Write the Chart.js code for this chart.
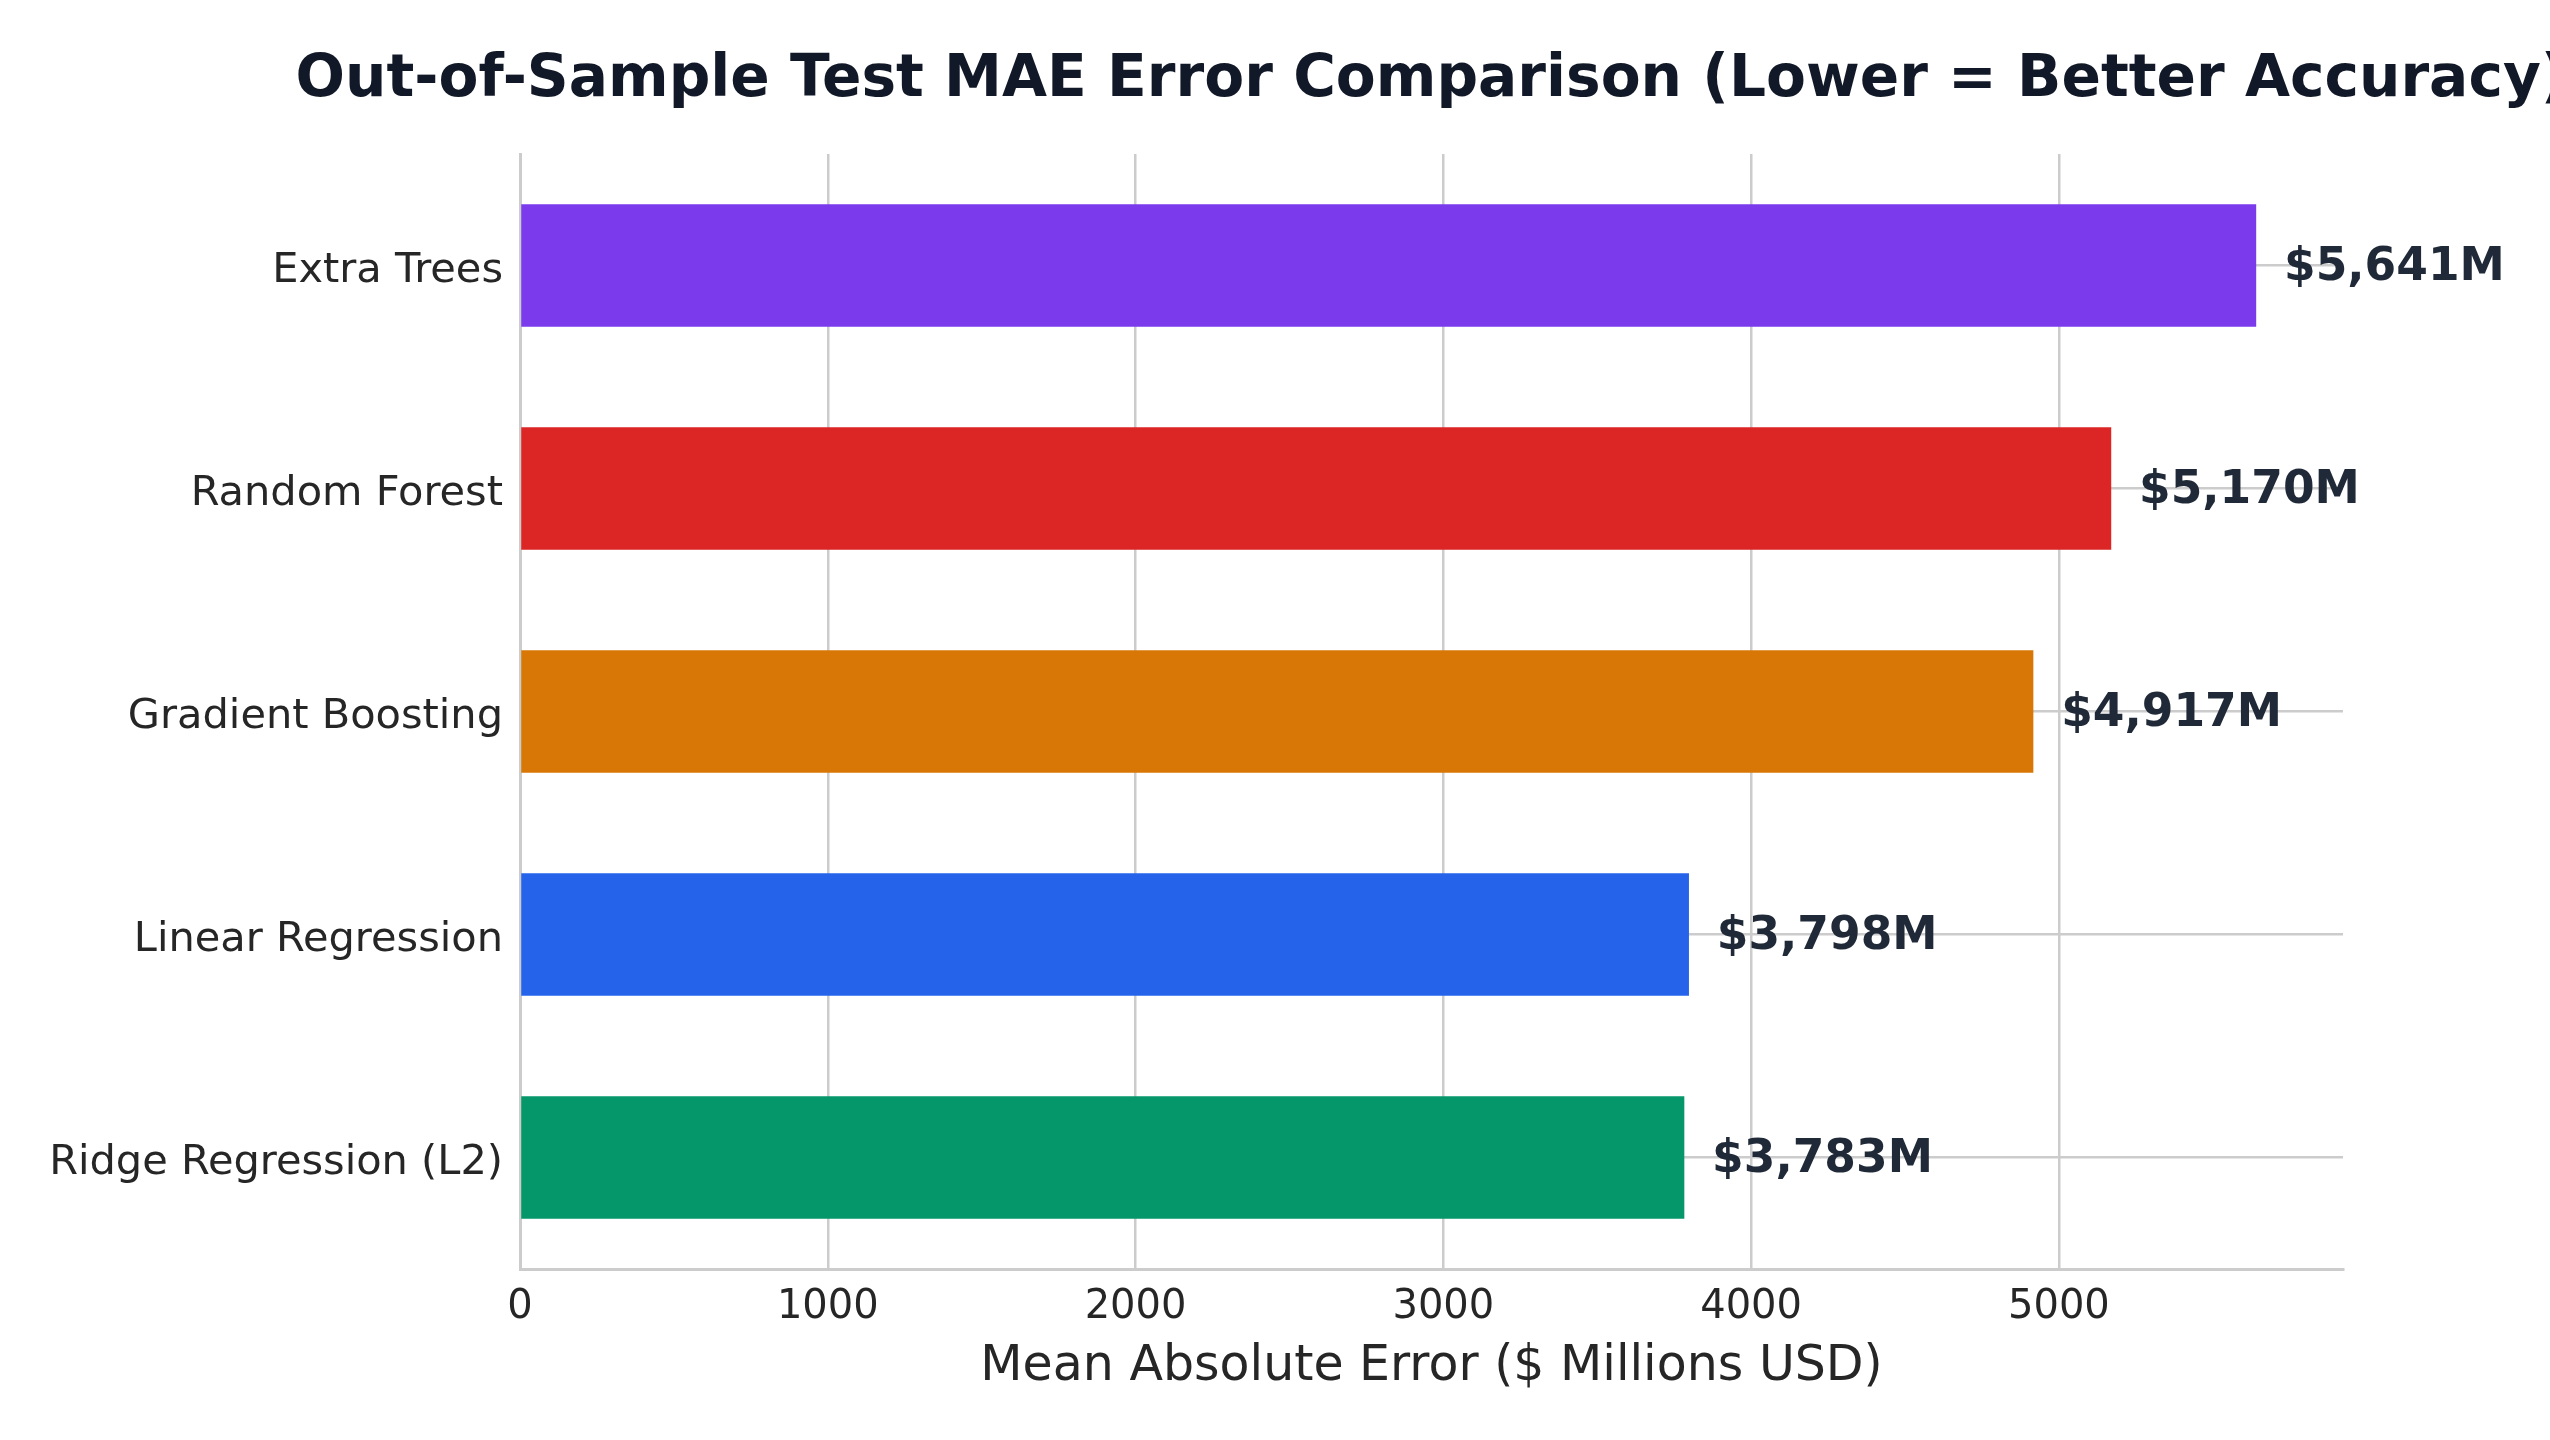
<!DOCTYPE html>
<html lang="en">
<head>
  <meta charset="UTF-8">
  <title>Out-of-Sample Test MAE Error Comparison</title>
  <script src="https://cdn.jsdelivr.net/npm/chart.js"></script>
  <style>
    body {
      margin: 0;
      padding: 0;
      background: #ffffff;
      font-family: "DejaVu Sans", sans-serif;
    }
    .chart-container {
      width: 2550px;
      height: 1440px;
    }
  </style>
</head>
<body>
  <div class="chart-container">
    <canvas id="maeChart" width="2550" height="1440"></canvas>
  </div>

  <script>
    // Models, top to bottom as shown
    const models = ['Extra Trees', 'Random Forest', 'Gradient Boosting', 'Linear Regression', 'Ridge Regression (L2)'];
    // Test MAE in $ millions
    const maeValues = [5641, 5170, 4917, 3798, 3783];
    const barColors = ['#7c3aed', '#dc2626', '#d97706', '#2563eb', '#059669'];
    const xTicks = [0, 1000, 2000, 3000, 4000, 5000];
    const xMax = 5641 * 1.05;

    const chartTitle = 'Out-of-Sample Test MAE Error Comparison (Lower = Better Accuracy)';
    const xTitle = 'Mean Absolute Error ($ Millions USD)';

    // Title centred over the plot area (matplotlib style), plus value labels
    const annotations = {
      id: 'annotations',
      afterDatasetsDraw(chart) {
        const ctx = chart.ctx;
        const area = chart.chartArea;
        const xScale = chart.scales.x;
        ctx.save();

        ctx.font = 'bold 58.2px "DejaVu Sans"';
        ctx.fillStyle = '#111827';
        ctx.textAlign = 'center';
        ctx.textBaseline = 'alphabetic';
        ctx.fillText(chartTitle, (area.left + area.right) / 2, 96);

        ctx.font = 'bold 45.5px "DejaVu Sans"';
        ctx.fillStyle = '#1f2937';
        ctx.textAlign = 'left';
        ctx.textBaseline = 'middle';
        chart.getDatasetMeta(0).data.forEach((bar, i) => {
          const v = maeValues[i];
          ctx.fillText('$' + v.toLocaleString('en-US') + 'M', xScale.getPixelForValue(v + 100) - 3, bar.y + 3);
        });
        ctx.restore();
      }
    };

    new Chart(document.getElementById('maeChart').getContext('2d'), {
      type: 'bar',
      data: {
        labels: models,
        datasets: [{
          data: maeValues,
          backgroundColor: barColors,
          borderWidth: 0,
          categoryPercentage: 1.0,
          barPercentage: 0.55
        }]
      },
      options: {
        indexAxis: 'y',
        responsive: false,
        animation: false,
        devicePixelRatio: 1,
        layout: {
          padding: { top: 154, right: 207, bottom: 0, left: 0 }
        },
        plugins: {
          legend: { display: false },
          title: { display: false },
          tooltip: { enabled: false }
        },
        scales: {
          x: {
            min: 0,
            max: xMax,
            afterBuildTicks: scale => {
              scale.ticks = xTicks.map(v => ({ value: v }));
            },
            afterFit: scale => { scale.height = 171; },
            grid: { color: '#cccccc', lineWidth: 2.5, drawTicks: false },
            border: { color: '#cccccc', width: 3 },
            ticks: {
              padding: 15,
              color: '#262626',
              font: { family: 'DejaVu Sans', size: 40 },
              callback: v => String(v)
            },
            title: {
              display: true,
              text: xTitle,
              color: '#262626',
              font: { family: 'DejaVu Sans', size: 49 },
              padding: { top: 0, bottom: 43 }
            }
          },
          y: {
            afterFit: scale => { scale.width = 520; },
            grid: { color: '#cccccc', lineWidth: 2.5, drawTicks: false, offset: false },
            border: { color: '#cccccc', width: 3 },
            ticks: {
              padding: 17,
              labelOffset: 6,
              color: '#262626',
              font: { family: 'DejaVu Sans', size: 41.5 }
            }
          }
        }
      },
      plugins: [annotations]
    });
  </script>
</body>
</html>
